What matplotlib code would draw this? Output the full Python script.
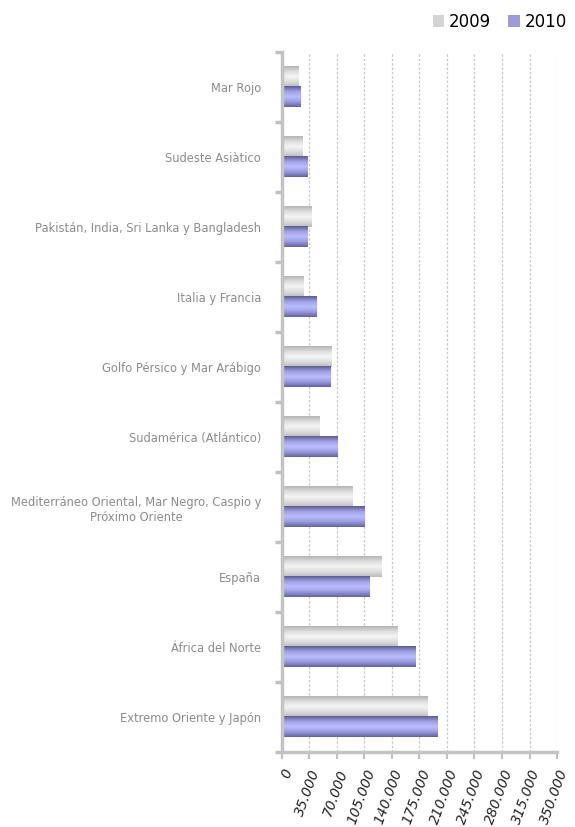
import numpy as np
import matplotlib
matplotlib.use('Agg')
import matplotlib.pyplot as plt
from matplotlib.colors import LinearSegmentedColormap
from matplotlib.patches import Patch
from matplotlib.ticker import FuncFormatter

categories = [
    'Mar Rojo',
    'Sudeste Asiàtico',
    'Pakistán, India, Sri Lanka y Bangladesh',
    'Italia y Francia',
    'Golfo Pérsico y Mar Arábigo',
    'Sudamérica (Atlántico)',
    'Mediterráneo Oriental, Mar Negro, Caspio y\nPróximo Oriente',
    'España',
    'África del Norte',
    'Extremo Oriente y Japón',
]
values_2009 = [20500, 25600, 37200, 26900, 62800, 47400, 89700, 126900, 147400, 185500]
values_2010 = [23100, 32000, 32000, 43600, 61500, 70500, 105100, 111500, 170500, 198300]
x_ticks = [0, 35000, 70000, 105000, 140000, 175000, 210000, 245000, 280000, 315000, 350000]

# gradient maps: top -> middle -> bottom of each bar
grey_cmap = LinearSegmentedColormap.from_list(
    'grey', ['#bdbdbd', '#dcdcdc', '#f4f4f4', '#dedede', '#b4b4b4'])
blue_cmap = LinearSegmentedColormap.from_list(
    'blue', ['#64649a', '#9a9ae0', '#bcbcff', '#a0a0e6', '#5c5c90'])

fig = plt.figure(figsize=(5.75, 8.27), dpi=100)
ax = fig.add_axes([0.4904, 0.0907, 0.4783, 0.8463])

y = np.arange(len(categories))
h = 0.286
bars09 = ax.barh(y - h / 2, values_2009, height=h, color='none', zorder=3)
bars10 = ax.barh(y + h / 2, values_2010, height=h, color='none', zorder=3)

grad = np.linspace(0, 1, 64).reshape(-1, 1)
for bars, cmap in ((bars09, grey_cmap), (bars10, blue_cmap)):
    for b in bars:
        x0, y0, w, hh = b.get_x(), b.get_y(), b.get_width(), b.get_height()
        ax.imshow(grad, cmap=cmap, aspect='auto', origin='lower',
                  extent=(x0, x0 + w, y0 + hh, y0), zorder=3, interpolation='bilinear')

ax.set_xlim(0, 350000)
ax.set_ylim(len(categories) - 0.5, -0.5)
ax.set_aspect('auto')

ax.set_xticks(x_ticks)
ax.xaxis.set_major_formatter(FuncFormatter(lambda v, p: f'{int(v):,}'.replace(',', '.')))
plt.setp(ax.get_xticklabels(), rotation=70, ha='right', va='top',
         rotation_mode='anchor', fontsize=10, color='#222222', style='italic')

ax.set_yticks(y)
ax.set_yticklabels(categories, fontsize=8.3, color='#8c8c8c', multialignment='center')
ax.set_yticks(np.arange(len(categories) + 1) - 0.5, minor=True)
ax.tick_params(axis='y', which='major', length=0, pad=15)
ax.tick_params(axis='y', which='minor', length=5, width=2.5, color='#c0c0c0')
ax.tick_params(axis='x', length=5, width=1.5, color='#c0c0c0', pad=6)

ax.grid(axis='x', color='#c8c8c8', linestyle=(0, (2, 1.5)), linewidth=0.9, zorder=0)
ax.set_axisbelow(True)
for s in ('top', 'right'):
    ax.spines[s].set_visible(False)
for s in ('left', 'bottom'):
    ax.spines[s].set_color('#c4c4c4')
    ax.spines[s].set_linewidth(2.5)
    ax.spines[s].set_zorder(4)

handles = [Patch(facecolor='#d4d4d4', edgecolor='none', label='2009'),
           Patch(facecolor='#9c9cd8', edgecolor='none', label='2010')]
fig.legend(handles=handles, loc='upper right', bbox_to_anchor=(1.012, 1.003), ncol=2,
           frameon=False, fontsize=12, handlelength=0.7, handleheight=0.7,
           handletextpad=0.3, columnspacing=1.0)

fig.savefig('out.png', dpi=100)
